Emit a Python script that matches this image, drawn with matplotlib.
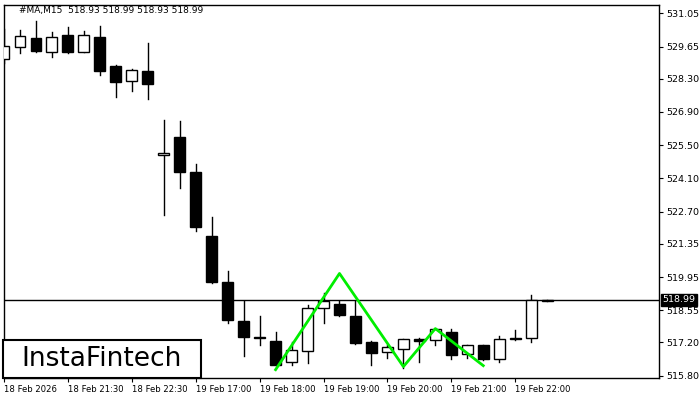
import matplotlib
matplotlib.use("Agg")
import matplotlib.pyplot as plt
from matplotlib.patches import Rectangle

opens  = [529.11,529.62,530.00,529.41,530.12,529.41,530.04,528.82,528.19,528.61,525.07,525.83,524.35,521.66,519.72,518.12,517.40,517.27,516.39,516.85,518.66,518.83,518.33,517.23,516.81,516.94,517.36,517.32,517.65,516.73,517.07,516.52,517.36,517.40,518.93]
highs  = [530.38,530.33,530.71,530.25,530.46,530.29,530.50,528.86,528.69,529.79,526.54,526.50,524.69,522.46,520.22,518.96,518.29,517.65,517.23,518.79,519.26,518.96,518.92,517.27,517.11,517.36,517.40,517.78,517.78,517.07,517.11,517.48,517.74,519.21,518.99]
lows   = [528.94,529.37,529.41,529.20,529.37,529.41,528.44,527.51,527.76,527.43,522.58,523.68,521.87,519.68,518.03,516.64,517.11,516.26,516.26,516.35,518.03,518.29,517.15,516.26,516.56,516.14,516.39,517.11,516.52,516.56,516.47,516.39,517.32,517.23,518.93]
closes = [529.66,530.08,529.45,530.04,529.41,530.12,528.61,528.14,528.65,528.06,525.15,524.35,522.04,519.72,518.16,517.44,517.40,516.26,516.89,518.66,518.92,518.37,517.19,516.77,517.02,517.36,517.27,517.78,516.68,517.07,516.52,517.36,517.36,518.99,518.99]
pattern_idx = [17, 21, 25, 27, 30]
pattern_px = [516.05, 520.10, 516.18, 517.78, 516.22]
yticks = [531.05,529.65,528.30,526.90,525.50,524.10,522.70,521.35,519.95,518.55,517.20,515.80]
xtick_idx = [0,4,8,12,16,20,24,28,32]
xtick_lbl = ["18 Feb 2026","18 Feb 21:30","18 Feb 22:30","19 Feb 17:00","19 Feb 18:00","19 Feb 19:00","19 Feb 20:00","19 Feb 21:00","19 Feb 22:00"]
last_price = 518.99

fig = plt.figure(figsize=(7,4), dpi=100)
ax = fig.add_axes([4/700, 22/400, 655/700, 373/400])
w = 0.68
for i,(o,h,l,c) in enumerate(zip(opens,highs,lows,closes)):
    ax.plot([i,i],[l,h],color='black',lw=1,zorder=2)
    lo, hi = min(o,c), max(o,c)
    fc = 'white' if c >= o else 'black'
    ax.add_patch(Rectangle((i-w/2, lo), w, max(hi-lo,0.04), facecolor=fc, edgecolor='black', lw=1, zorder=3))
ax.plot(pattern_idx, pattern_px, color='#00ee00', lw=2, zorder=4)
ax.axhline(last_price, color='black', lw=1, zorder=1)
ax.set_xlim(0.06, 41)
ax.set_ylim(515.7, 531.4)
ax.yaxis.tick_right()
ax.set_yticks(yticks)
ax.set_yticklabels([f"{v:.2f}" for v in yticks], fontsize=6.8)
ax.set_xticks(xtick_idx)
ax.set_xticklabels(xtick_lbl, fontsize=6.1, ha='left')
ax.tick_params(length=3, pad=2)
for s in ax.spines.values():
    s.set_linewidth(1)
ax.text(1.005, last_price, f"{last_price:.2f}", transform=ax.get_yaxis_transform(), fontsize=6.8,
        color='white', va='center', ha='left', bbox=dict(facecolor='black', edgecolor='black', pad=1.2), zorder=10, clip_on=False)
fig.text(19/700, 1-11/400, "#MA,M15  518.93 518.99 518.93 518.99", fontsize=6.5, va='center')
fig.patches.append(Rectangle((3/700, 1-378/400), 198/700, 38/400, transform=fig.transFigure, facecolor='white', edgecolor='black', lw=1.5, zorder=20))
fig.text(102/700, 1-359/400, "InstaFintech", fontsize=19, ha='center', va='center', zorder=21)
fig.savefig("out.png", dpi=100)
